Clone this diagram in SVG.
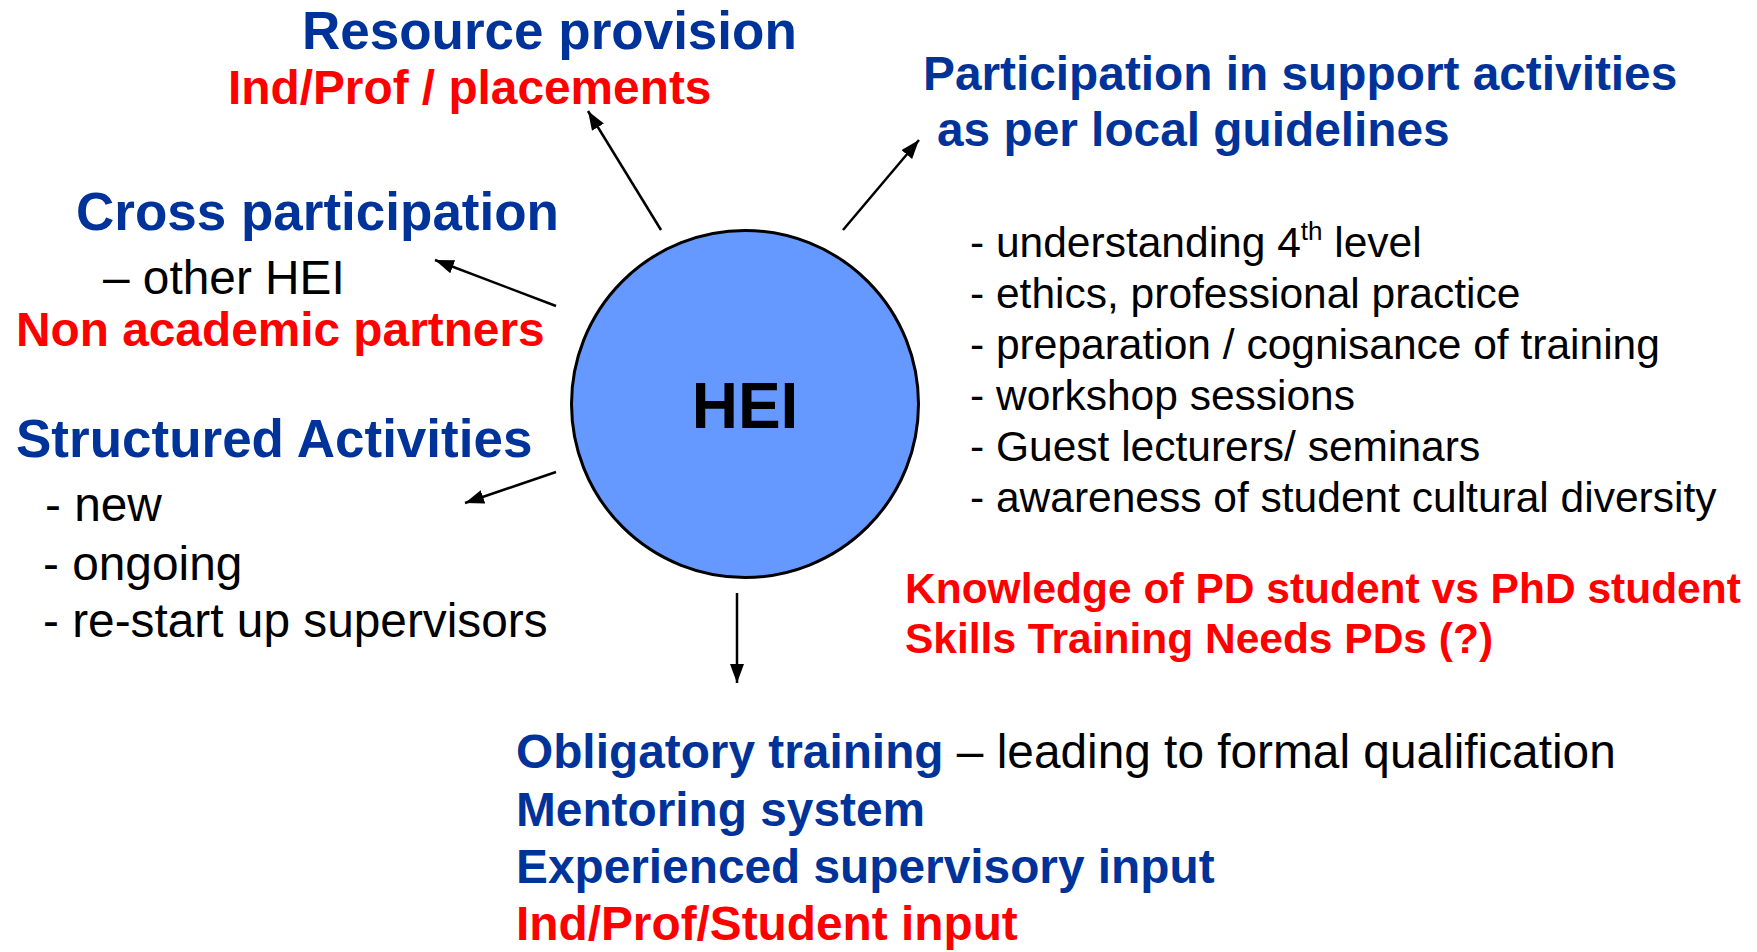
<svg xmlns="http://www.w3.org/2000/svg" width="1757" height="952" viewBox="0 0 1757 952">
<style>
text { font-family: "Liberation Sans", Arial, sans-serif; }
.hb { fill: #003399; font-weight: bold; font-size: 53px; }
.hm { fill: #003399; font-weight: bold; font-size: 47.8px; }
.rd { fill: #FF0000; font-weight: bold; font-size: 47.8px; }
.rs { fill: #FF0000; font-weight: bold; font-size: 42.5px; }
.bk { fill: #000000; font-size: 47.8px; }
.bs { fill: #000000; font-size: 42.5px; }
.conn { stroke: #000; stroke-width: 2.5; fill: none; marker-end: url(#ah); }
</style>
<defs>
<marker id="ah" markerUnits="userSpaceOnUse" markerWidth="20" markerHeight="14" refX="19" refY="7" orient="auto">
<path d="M0,0 L19,7 L0,14 z" fill="#000"/>
</marker>
</defs>
<rect width="1757" height="952" fill="#fff"/>
<g id="connectors">
<line class="conn" x1="661" y1="230" x2="588" y2="111"/>
<line class="conn" x1="843" y1="230" x2="919" y2="140"/>
<line class="conn" x1="556" y1="306" x2="435" y2="260"/>
<line class="conn" x1="556" y1="472" x2="465" y2="503"/>
<line class="conn" x1="737" y1="593" x2="737" y2="683"/>
</g>
<g id="hei">
<circle cx="745" cy="404" r="173.5" fill="#6699FF" stroke="#000" stroke-width="3"/>
<text x="745" y="428" text-anchor="middle" font-weight="bold" font-size="64" fill="#000">HEI</text>
</g>
<g id="resource">
<text class="hb" x="302" y="49">Resource provision</text>
<text class="rd" x="228" y="104">Ind/Prof / placements</text>
</g>
<g id="participation">
<text class="hm" x="923" y="90">Participation in support activities</text>
<text class="hm" x="937" y="146">as per local guidelines</text>
</g>
<g id="support-list">
<text class="bs" x="970" y="257">- understanding 4<tspan font-size="26" dy="-17">th</tspan><tspan dy="17"> level</tspan></text>
<text class="bs" x="970" y="308">- ethics, professional practice</text>
<text class="bs" x="970" y="359">- preparation / cognisance of training</text>
<text class="bs" x="970" y="410">- workshop sessions</text>
<text class="bs" x="970" y="461">- Guest lecturers/ seminars</text>
<text class="bs" x="970" y="512">- awareness of student cultural diversity</text>
</g>
<g id="knowledge">
<text class="rs" x="905" y="603">Knowledge of PD student vs PhD student</text>
<text class="rs" x="905" y="653">Skills Training Needs PDs (?)</text>
</g>
<g id="cross">
<text class="hb" x="76" y="230">Cross participation</text>
<text class="bk" x="103" y="294">– other HEI</text>
<text class="rd" x="16" y="346">Non academic partners</text>
</g>
<g id="structured">
<text class="hb" x="16" y="457">Structured Activities</text>
<text class="bk" x="45" y="521">- new</text>
<text class="bk" x="43" y="580">- ongoing</text>
<text class="bk" x="43" y="637">- re-start up supervisors</text>
</g>
<g id="obligatory">
<text class="hm" x="516" y="768" font-size="47.5">Obligatory training<tspan class="bk" font-weight="normal" font-size="48"> – leading to formal qualification</tspan></text>
<text class="hm" x="516" y="826">Mentoring system</text>
<text class="hm" x="516" y="883">Experienced supervisory input</text>
<text class="rd" x="516" y="940">Ind/Prof/Student input</text>
</g>
</svg>
